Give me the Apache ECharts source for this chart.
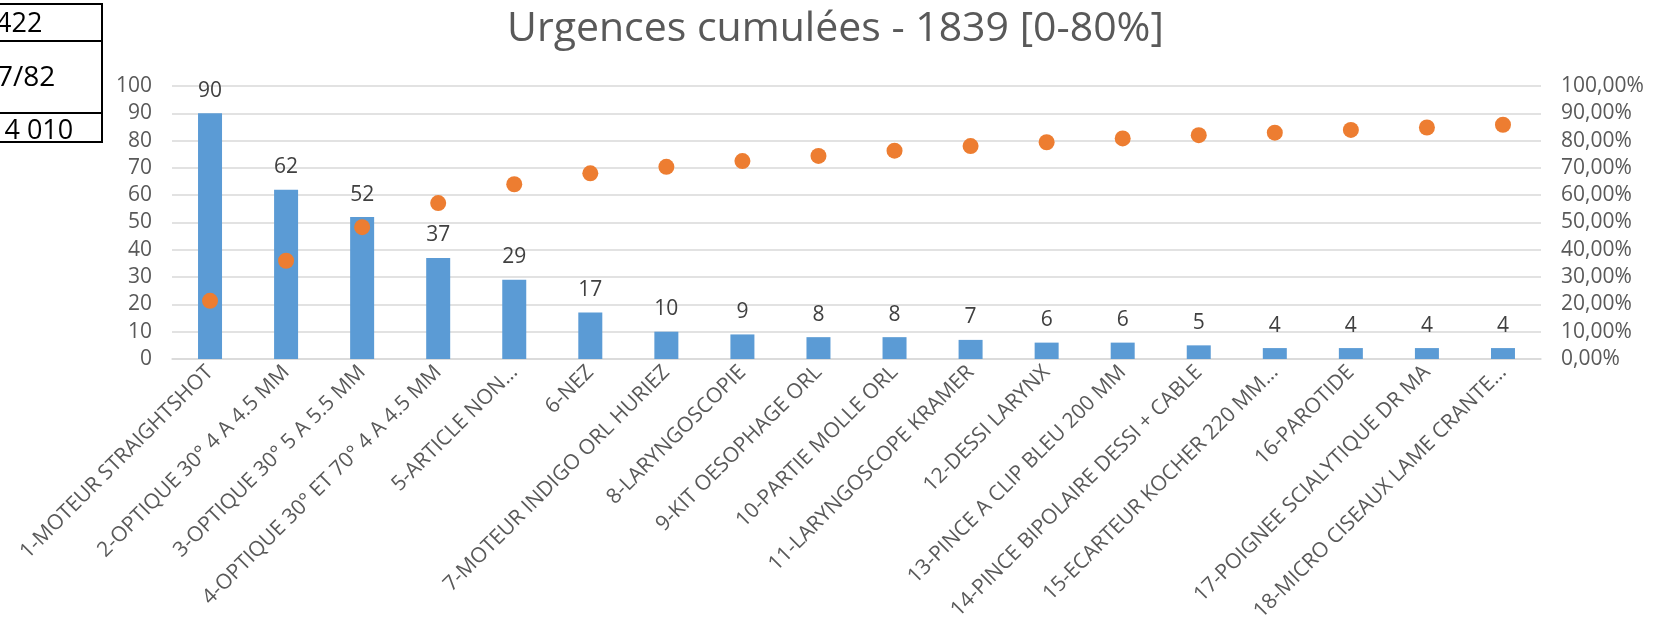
<!DOCTYPE html>
<html>
<head>
<meta charset="utf-8">
<script src="https://cdn.jsdelivr.net/npm/echarts@6/dist/echarts.min.js"></script>
<style>
  html, body { margin: 0; padding: 0; background: #fff; }
  #chart { width: 1673px; height: 633px; }
</style>
</head>
<body>
<div id="chart"></div>
<script>
// catégories (libellés tels qu'affichés, tronqués comme dans Excel)
var categories = [
  '1-MOTEUR STRAIGHTSHOT',
  '2-OPTIQUE 30° 4 A 4.5 MM',
  '3-OPTIQUE 30° 5 A 5.5 MM',
  '4-OPTIQUE 30° ET 70° 4 A 4.5 MM',
  '5-ARTICLE NON…',
  '6-NEZ',
  '7-MOTEUR INDIGO ORL HURIEZ',
  '8-LARYNGOSCOPIE',
  '9-KIT OESOPHAGE ORL',
  '10-PARTIE MOLLE ORL',
  '11-LARYNGOSCOPE KRAMER',
  '12-DESSI LARYNX',
  '13-PINCE A CLIP BLEU 200 MM',
  '14-PINCE BIPOLAIRE DESSI + CABLE',
  '15-ECARTEUR KOCHER 220 MM…',
  '16-PAROTIDE',
  '17-POIGNEE SCIALYTIQUE DR MA',
  '18-MICRO CISEAUX LAME CRANTE…'
]
// nombre d'urgences
var counts = [90, 62, 52, 37, 29, 17, 10, 9, 8, 8, 7, 6, 6, 5, 4, 4, 4, 4]
var cumul = [0.213, 0.360, 0.483, 0.571, 0.640, 0.680, 0.704, 0.725, 0.744,
  0.763, 0.780, 0.794, 0.808, 0.820, 0.829, 0.839, 0.848, 0.858]
// cellules du tableau coupé en haut à gauche
var tableCells = ['422', '7/82', '14 010']

var font = '"Open Sans", sans-serif'
var myChart = echarts.init(document.getElementById('chart'))

var option = {
  backgroundColor: '#fff',
  animation: false,
  textStyle: { fontFamily: font },
  title: {
    text: 'Urgences cumulées - 1839 [0-80%]',
    left: 502,
    top: 4,
    textStyle: { fontFamily: font, fontSize: 41, fontWeight: 'normal', color: '#595959' }
  },
  grid: { left: 172, right: 132, top: 86, bottom: 274, outerBoundsMode: 'none' },
  xAxis: {
    type: 'category',
    data: categories,
    axisLine: { lineStyle: { color: '#D9D9D9', width: 1.5 } },
    axisTick: { show: false },
    axisLabel: {
      interval: 0,
      rotate: 45,
      margin: 10,
      color: '#595959',
      fontFamily: font,
      fontSize: 21
    }
  },
  yAxis: [{
    type: 'value',
    min: 0,
    max: 100,
    interval: 10,
    axisLine: { show: false },
    axisTick: { show: false },
    splitLine: { lineStyle: { color: '#D9D9D9', width: 1.5 } },
    axisLabel: { color: '#595959', fontFamily: font, fontSize: 21, margin: 20 }
  }, {
    type: 'value',
    min: 0,
    max: 1,
    interval: 0.1,
    axisLine: { show: false },
    axisTick: { show: false },
    splitLine: { show: false },
    axisLabel: {
      color: '#595959',
      fontFamily: font,
      fontSize: 21,
      margin: 20,
      formatter: function (v) {
        return (v * 100).toFixed(2).replace('.', ',') + '%'
      }
    }
  }],
  series: [{
    name: 'Urgences',
    type: 'bar',
    data: counts,
    barWidth: 24,
    itemStyle: { color: '#5B9BD5' },
    label: {
      show: true,
      position: 'top',
      distance: 12,
      color: '#404040',
      fontFamily: font,
      fontSize: 21
    }
  }, {
    name: 'Cumul',
    type: 'scatter',
    yAxisIndex: 1,
    data: cumul,
    symbol: 'circle',
    symbolSize: 16,
    itemStyle: { color: '#ED7D31', opacity: 1 }
  }],
  graphic: [
    { type: 'line', shape: { x1: 0, y1: 4, x2: 102, y2: 4 }, style: { stroke: '#000', lineWidth: 2 } },
    { type: 'line', shape: { x1: 0, y1: 41, x2: 102, y2: 41 }, style: { stroke: '#000', lineWidth: 2 } },
    { type: 'line', shape: { x1: 0, y1: 113, x2: 102, y2: 113 }, style: { stroke: '#000', lineWidth: 2 } },
    { type: 'line', shape: { x1: 0, y1: 142, x2: 102, y2: 142 }, style: { stroke: '#000', lineWidth: 2 } },
    { type: 'line', shape: { x1: 102, y1: 3, x2: 102, y2: 143 }, style: { stroke: '#000', lineWidth: 2 } },
    { type: 'text', x: -4, y: 24, style: { text: tableCells[0], font: '27px ' + font, fill: '#000', verticalAlign: 'middle' } },
    { type: 'text', x: -3, y: 78, style: { text: tableCells[1], font: '28px ' + font, fill: '#000', verticalAlign: 'middle' } },
    { type: 'text', x: -11, y: 131, style: { text: tableCells[2], font: '27px ' + font, fill: '#000', verticalAlign: 'middle' } }
  ]
}

myChart.setOption(option)
</script>
</body>
</html>
